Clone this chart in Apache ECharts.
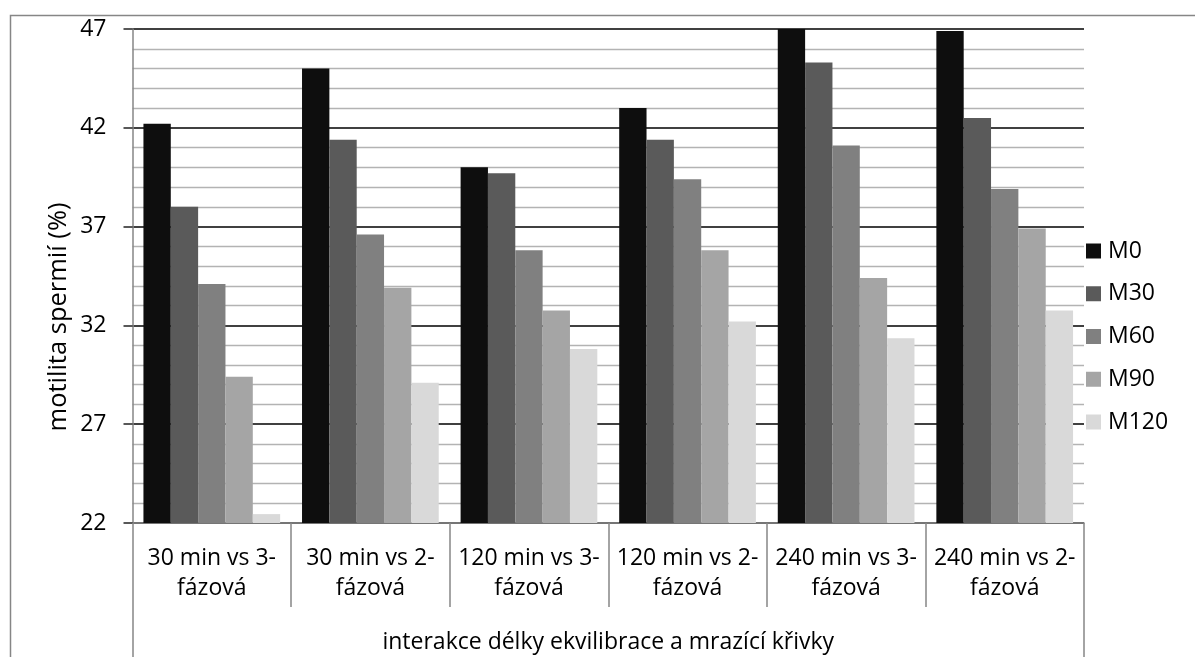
<!DOCTYPE html>
<html>
<head>
<meta charset="utf-8">
<script src="https://cdn.jsdelivr.net/npm/echarts@6/dist/echarts.min.js"></script>
<style>
html,body{margin:0;padding:0;background:#fff;}
#chart{width:1195px;height:657px;}
</style>
</head>
<body>
<div id="chart"></div>
<script>
const categories = [
  "30 min vs 3-\nfázová",
  "30 min vs 2-\nfázová",
  "120 min vs 3-\nfázová",
  "120 min vs 2-\nfázová",
  "240 min vs 3-\nfázová",
  "240 min vs 2-\nfázová"
];
const seriesNames = ["M0", "M30", "M60", "M90", "M120"];
const M0   = [42.2, 45.0, 40.0, 43.0, 47.0, 46.9];
const M30  = [38.0, 41.4, 39.7, 41.4, 45.3, 42.5];
const M60  = [34.1, 36.6, 35.8, 39.4, 41.1, 38.9];
const M90  = [29.4, 33.9, 32.75, 35.8, 34.4, 36.9];
const M120 = [22.45, 29.1, 30.8, 32.2, 31.35, 32.75];
const seriesColors = ["#0e0e0e", "#5a5a5a", "#808080", "#a5a5a5", "#d9d9d9"];
const yTitle = "motilita spermií (%)";
const xTitle = "interakce délky ekvilibrace a mrazící křivky";

const allValues = [M0, M30, M60, M90, M120];
const FONT = "Open Sans";

const chart = echarts.init(document.getElementById('chart'));
chart.setOption({
  animation: false,
  backgroundColor: '#ffffff',
  textStyle: { fontFamily: FONT },
  grid: { left: 132.5, right: 111, top: 29, bottom: 132, containLabel: false },
  legend: {
    orient: 'vertical',
    left: 1086,
    top: 239,
    padding: 0,
    itemWidth: 15,
    itemHeight: 15,
    itemGap: 18.75,
    icon: 'rect',
    textStyle: { fontFamily: FONT, fontSize: 23, color: '#000', lineHeight: 24, padding: [0, 0, 0, 2] },
    data: seriesNames
  },
  xAxis: [
    {
      type: 'category',
      position: 'bottom',
      data: categories,
      boundaryGap: true,
      axisLine: { show: true, lineStyle: { color: '#868686', width: 1.5 } },
      axisTick: { show: true, length: 84, interval: 0, lineStyle: { color: '#868686', width: 1.5 } },
      axisLabel: { interval: 0, fontFamily: FONT, fontSize: 23, lineHeight: 30, color: '#000', margin: 20 },
      splitLine: { show: false }
    },
    {
      type: 'category',
      position: 'bottom',
      offset: 0,
      data: [xTitle],
      boundaryGap: true,
      axisLine: { show: false },
      axisTick: { show: true, length: 140, interval: 0, lineStyle: { color: '#868686', width: 1.5 } },
      axisLabel: { interval: 0, fontFamily: FONT, fontSize: 23, lineHeight: 30, color: '#000', margin: 104 },
      splitLine: { show: false }
    }
  ],
  yAxis: {
    type: 'value',
    min: 22,
    max: 47,
    interval: 5,
    axisLine: { show: true, lineStyle: { color: '#868686', width: 1.5 } },
    axisTick: { show: true, length: 9, lineStyle: { color: '#222', width: 1.5 } },
    axisLabel: { fontFamily: FONT, fontSize: 23, color: '#000', margin: 26 },
    splitLine: { show: true, lineStyle: { color: '#000', width: 1.6 } },
    minorTick: { show: false, splitNumber: 5 },
    minorSplitLine: { show: true, lineStyle: { color: '#b3b3b3', width: 1.4 } }
  },
  series: seriesNames.map((name, i) => ({
    name: name,
    type: 'bar',
    xAxisIndex: 0,
    data: allValues[i],
    barGap: '0%',
    barCategoryGap: '13.8%',
    itemStyle: { color: seriesColors[i] },
    z: 3
  })),
  graphic: [
    {
      type: 'rect',
      left: 8, top: 13,
      shape: { width: 1400, height: 900 },
      style: { fill: 'none', stroke: '#868686', lineWidth: 1.5 },
      z: -10,
      silent: true
    },
    {
      type: 'text',
      x: 59, y: 317,
      rotation: Math.PI / 2,
      style: { text: yTitle, fontFamily: FONT, fontSize: 25.5, fill: '#000', align: 'center', verticalAlign: 'middle' },
      silent: true
    }
  ]
});
</script>
</body>
</html>
